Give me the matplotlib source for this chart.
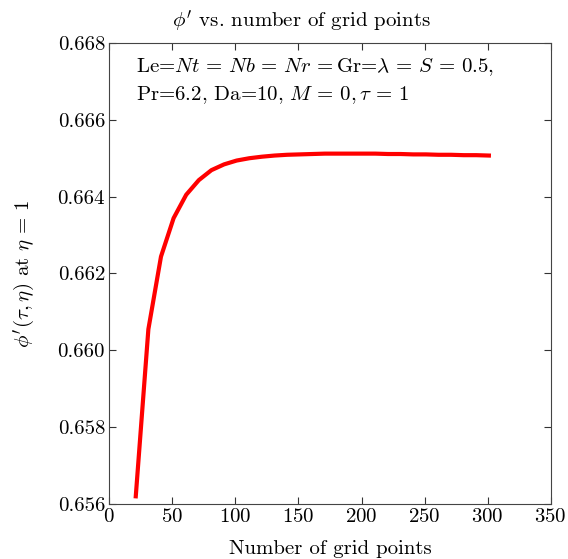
import numpy as np
import matplotlib
matplotlib.use('Agg')
import matplotlib.pyplot as plt

plt.rcParams['font.family'] = 'serif'
plt.rcParams['font.serif'] = ['cmr10', 'DejaVu Serif']
plt.rcParams['mathtext.fontset'] = 'cm'
plt.rcParams['axes.formatter.use_mathtext'] = True

# grid points vs phi'(tau, eta=1)
grid_points = [21, 31, 41, 51, 61, 71, 81, 91, 101, 111, 121, 131, 141, 151, 161,
               171, 181, 191, 201, 211, 221, 231, 241, 251, 261, 271, 281, 291, 301]
phi_prime = [0.65620, 0.66055, 0.66244, 0.66344, 0.66405, 0.66443, 0.66469, 0.66484,
             0.66494, 0.66500, 0.66504, 0.66507, 0.66509, 0.66510, 0.66511, 0.66512,
             0.66512, 0.66512, 0.66512, 0.66512, 0.66511, 0.66511, 0.66510, 0.66510,
             0.66509, 0.66509, 0.66508, 0.66508, 0.66507]

x_ticks = [0, 50, 100, 150, 200, 250, 300, 350]
y_ticks = [0.656, 0.658, 0.660, 0.662, 0.664, 0.666, 0.668]

fs = 15
fig = plt.figure(figsize=(5.68, 5.59), dpi=100)
ax = fig.add_axes([0.1924, 0.0984, 0.7771, 0.8247])

ax.plot(grid_points, phi_prime, color='red', linewidth=3.0)

ax.set_xlim(0, 350)
ax.set_ylim(0.656, 0.668)
ax.set_xticks(x_ticks)
ax.set_yticks(y_ticks)
ax.set_yticklabels([f'{v:.3f}' for v in y_ticks])
ax.tick_params(direction='in', top=True, right=True, length=5, width=0.8,
               labelsize=fs, colors='#333333', labelcolor='black', pad=3)
for sp in ax.spines.values():
    sp.set_color('#444444')
    sp.set_linewidth(0.8)

# title sits a little left of the axes centre in the original
fig.text(301 / 568, 1 - 21 / 559, r"$\phi'$ vs. number of grid points",
         fontsize=fs, ha='center', va='center')
ax.set_xlabel('Number of grid points', fontsize=fs, labelpad=10)
ax.set_ylabel(r"$\phi'(\tau,\eta)$ at $\eta\,=\,1$", fontsize=fs, labelpad=15)

ax.text(0.06, 0.972, r"Le=$Nt\,=\,Nb\,=\,Nr\,=$Gr=$\lambda\,=\,S\,=\,0.5$,",
        transform=ax.transAxes, fontsize=fs, va='top')
ax.text(0.06, 0.91, r"Pr=6.2, Da=10, $M\,=\,0, \tau\,=\,1$",
        transform=ax.transAxes, fontsize=fs, va='top')

fig.savefig('out.png', dpi=100)
